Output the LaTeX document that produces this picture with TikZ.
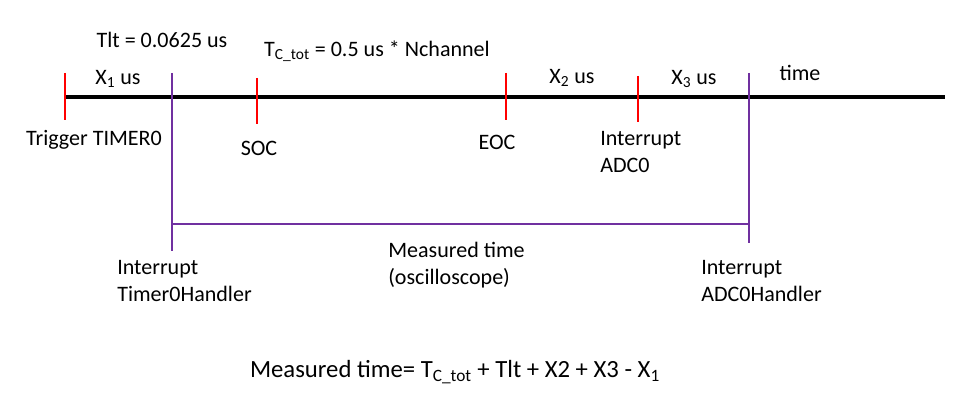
\documentclass[tikz,border=0pt]{standalone}
\usepackage{fontspec}
\setmainfont{Carlito}
\definecolor{tickred}{RGB}{255,0,0}
\definecolor{markpurple}{RGB}{112,48,160}
\tikzset{lbl/.style={inner sep=0pt,font=\fontsize{16.6pt}{19.8pt}\selectfont},
  twoline/.style={lbl,anchor=west,align=left}}

\begin{document}
\begin{tikzpicture}[x=0.02646cm,y=-0.02646cm]
  \useasboundingbox (0,0) rectangle (963,407);
  % time axis and red event ticks
  \draw[line width=3pt](65,97)--(945,97);
  \foreach \x/\a/\b in {65/73/120,257/78/124,506/73/120,638/76/122}
    \draw[tickred,line width=1pt](\x,\a)--(\x,\b);
  % measured window
  \coordinate (start) at (172,224);
  \coordinate (stop) at (749,224);
  \draw[markpurple,line width=1pt](172,73)--(172,251);
  \draw[markpurple,line width=1pt](749,73)--(749,243);
  \draw[markpurple,line width=1pt](start)--(stop);
  % labels above the axis
  \node[lbl] (tlt) at (162,40) {Tlt = 0.0625 us};
  \node[lbl] (tctot) at (377,51) {T\textsubscript{C\_tot} = 0.5 us * Nchannel};
  \node[lbl] (xone) at (118,79) {X\textsubscript{1} us};
  \node[lbl] (xtwo) at (572,78) {X\textsubscript{2} us};
  \node[lbl] (xthree) at (694,79) {X\textsubscript{3} us};
  \node[lbl] (time) at (800,73) {time};
  % labels below the axis
  \node[lbl] (trig) at (94,140) {Trigger TIMER0};
  \node[lbl] (soc) at (259,148) {SOC};
  \node[lbl] (eoc) at (497,142) {EOC};
  \node[twoline] (adcint) at (600,152) {Interrupt\\ADC0};
  \node[twoline] (meas) at (388,265) {Measured time\\(oscilloscope)};
  \node[twoline] (timerhnd) at (117,281) {Interrupt\\Timer0Handler};
  \node[twoline] (adchnd) at (701,281) {Interrupt\\ADC0Handler};
  \node[lbl,font=\fontsize{18.6pt}{22pt}\selectfont] (formula) at (455,372) {Measured time= T\textsubscript{C\_tot} + Tlt + X2 + X3 - X\textsubscript{1}};
\end{tikzpicture}
\end{document}
